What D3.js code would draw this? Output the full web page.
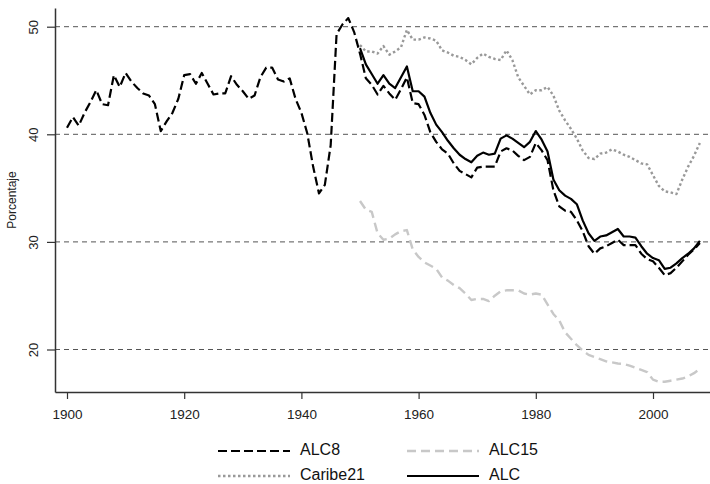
<!DOCTYPE html>
<html>
<meta charset="utf-8" />
<head>
<title>Porcentaje 1900-2008</title>
<script src="https://cdn.jsdelivr.net/npm/d3@7"></script>
<style>
	body { margin: 0; background: #fff; }
	svg { display: block; font-family: "Liberation Sans", Arial, sans-serif; }
</style>
<script>
// valores
const alc8Start = 1900;
const alc8 = [
	40.6, 41.6, 40.8, 42.0, 43.0, 44.1, 42.8, 42.7, 45.5, 44.4,
	45.7, 44.9, 44.3, 43.8, 43.6, 42.8, 40.3, 41.2, 42.0, 43.3,
	45.5, 45.6, 44.7, 45.7, 44.7, 43.7, 43.8, 43.8, 45.4, 44.6,
	44.0, 43.3, 43.6, 45.3, 46.2, 46.2, 45.1, 44.9, 45.2, 43.3,
	42.0, 40.1, 37.0, 34.5, 35.3, 39.0, 49.3, 50.2, 50.8, 49.5,
	47.5, 45.2, 44.6, 43.7, 44.5, 43.8, 43.2, 44.2, 45.3, 42.9,
	42.8, 41.8, 40.2, 39.3, 38.6, 38.2, 37.3, 36.6, 36.3, 36.0,
	36.9, 37.0, 37.0, 37.0, 38.4, 38.7, 38.5, 38.0, 37.6, 37.9,
	39.2, 38.5, 37.6, 34.8, 33.3, 32.9, 32.8, 32.0, 31.0, 29.6,
	28.9, 29.4, 29.6, 29.9, 30.2, 29.7, 29.7, 29.7, 28.9, 28.4,
	28.2, 27.6, 26.9, 27.1, 27.6, 28.2, 28.8, 29.3, 29.9
];

const restStart = 1950;
const alc = [
	48.0, 46.5, 45.6, 44.7, 45.5, 44.7, 44.3, 45.3, 46.3, 44.0,
	44.0, 43.5, 42.0, 40.9, 40.2, 39.4, 38.7, 38.1, 37.7, 37.4,
	38.0, 38.3, 38.1, 38.2, 39.6, 39.9, 39.6, 39.2, 38.8, 39.3,
	40.3, 39.5, 38.4, 35.8, 34.8, 34.3, 34.0, 33.5, 32.0, 30.8,
	30.1, 30.5, 30.6, 30.9, 31.2, 30.5, 30.5, 30.4, 29.6, 28.9,
	28.5, 28.3, 27.5, 27.6, 28.0, 28.5, 28.9, 29.4, 30.1
];
const caribe21 = [
	48.3, 47.7, 47.7, 47.5, 48.2, 47.4, 47.7, 48.1, 49.7, 48.8,
	48.8, 49.0, 48.9, 48.7, 47.8, 47.6, 47.3, 47.2, 46.9, 46.5,
	47.1, 47.5, 47.2, 47.0, 46.9, 47.8, 46.9, 45.3, 44.5, 43.7,
	44.1, 44.1, 44.4, 43.6, 42.2, 41.3, 40.5, 39.6, 38.5, 37.8,
	37.7, 38.2, 38.3, 38.6, 38.4, 38.1, 37.9, 37.6, 37.3, 37.2,
	36.2, 35.2, 34.7, 34.6, 34.45, 35.8, 37.0, 38.0, 39.2
];
const alc15 = [
	33.8, 33.0, 32.8, 30.8, 30.2, 30.3, 30.7, 31.0, 31.1, 29.3,
	28.6, 28.1, 27.8, 27.5, 26.7, 26.4, 26.0, 25.7, 25.2, 24.6,
	24.7, 24.7, 24.5, 25.0, 25.4, 25.5, 25.5, 25.5, 25.2, 25.1,
	25.2, 25.1, 24.2, 23.3, 22.7, 21.6, 21.0, 20.4, 19.9, 19.5,
	19.3, 19.1, 18.9, 18.8, 18.7, 18.65, 18.5, 18.3, 18.1, 17.9,
	17.2, 17.0, 17.0, 17.1, 17.2, 17.3, 17.5, 17.8, 18.2
];

const xTicks = [1900, 1920, 1940, 1960, 1980, 2000];
const yTicks = [20, 30, 40, 50];
const yTitle = 'Porcentaje';
const legendNames = ['ALC8', 'ALC15', 'Caribe21', 'ALC'];

window.onload = function() {
	let svg = d3.select('svg');

	// escalas: 1900->67px, 2000->653px ; 20->349.5px, 50->26.7px
	let xScale = d3.scaleLinear().domain([1900, 2000]).range([67, 653]);
	let yScale = d3.scaleLinear().domain([20, 50]).range([349.5, 26.7]);

	// copias que cubren todo el marco para dibujar los ejes
	let xFrame = xScale.copy().domain([xScale.invert(55), xScale.invert(710)]).range([55, 710]);
	let yFrame = yScale.copy().domain([yScale.invert(392), yScale.invert(8)]).range([392, 8]);

	// lineas de referencia horizontales
	svg.append('g').selectAll('line')
	.data(yTicks).enter()
	.append('line')
	.attr('x1', 55).attr('x2', 710)
	.attr('y1', (d) => yScale(d)).attr('y2', (d) => yScale(d))
	.attr('stroke', '#555')
	.attr('stroke-width', 1)
	.attr('stroke-dasharray', '5,4');

	// ejes
	let xAxis = d3.axisBottom(xFrame).tickValues(xTicks).tickSizeInner(7).tickSizeOuter(0).tickPadding(10).tickFormat(d3.format('d'));
	let yAxis = d3.axisLeft(yFrame).tickValues(yTicks).tickSizeInner(8).tickSizeOuter(0).tickPadding(0);

	let xG = svg.append('g').attr('transform', 'translate(0,392)').call(xAxis);
	let yG = svg.append('g').attr('transform', 'translate(55,0)').call(yAxis);

	[xG, yG].forEach((g) => {
		g.select('.domain').attr('stroke', '#333').attr('stroke-width', 1.5);
		g.selectAll('.tick line').attr('stroke', '#333').attr('stroke-width', 1.2);
	});
	xG.selectAll('.tick text').attr('font-size', 13.5).attr('fill', '#222').attr('font-family', 'Liberation Sans');

	// etiquetas del eje y giradas
	yG.selectAll('.tick text')
	.attr('x', null).attr('dy', null)
	.attr('transform', 'translate(-20,0) rotate(-90)')
	.attr('text-anchor', 'middle')
	.attr('dominant-baseline', 'middle')
	.attr('font-size', 13)
	.attr('fill', '#222')
	.attr('font-family', 'Liberation Sans');

	svg.append('text')
	.attr('transform', 'translate(13,200) rotate(-90)')
	.attr('text-anchor', 'middle')
	.attr('dominant-baseline', 'middle')
	.attr('font-size', 12)
	.attr('fill', '#222')
	.text(yTitle);

	// series
	let toPoints = (vals, start) => vals.map((v, i) => ({ year: start + i, value: v }));
	let line = d3.line()
	.x((d) => xScale(d.year))
	.y((d) => yScale(d.value));

	let series = [
		{ name: 'ALC15', data: toPoints(alc15, restStart), color: '#c8c8c8', width: 2.4, dash: '9,5' },
		{ name: 'Caribe21', data: toPoints(caribe21, restStart), color: '#999', width: 2.4, dash: '2.5,2.5' },
		{ name: 'ALC8', data: toPoints(alc8, alc8Start), color: '#000', width: 2.2, dash: '9,4' },
		{ name: 'ALC', data: toPoints(alc, restStart), color: '#000', width: 2.2, dash: null }
	];

	svg.append('g').selectAll('path')
	.data(series).enter()
	.append('path')
	.attr('d', (d) => line(d.data))
	.attr('fill', 'none')
	.attr('stroke', (d) => d.color)
	.attr('stroke-width', (d) => d.width)
	.attr('stroke-dasharray', (d) => d.dash)
	.attr('stroke-linejoin', 'round');

	// leyenda 2x2
	let legendPos = {
		'ALC8': [218, 451], 'ALC15': [407, 451],
		'Caribe21': [218, 476], 'ALC': [407, 476]
	};
	let styleOf = {};
	series.forEach((s) => { styleOf[s.name] = s; });

	let leg = svg.append('g').selectAll('g')
	.data(legendNames).enter()
	.append('g')
	.attr('transform', (d) => 'translate(' + legendPos[d][0] + ',' + legendPos[d][1] + ')');

	leg.append('line')
	.attr('x1', 0).attr('x2', 72)
	.attr('stroke', (d) => styleOf[d].color)
	.attr('stroke-width', (d) => styleOf[d].width)
	.attr('stroke-dasharray', (d) => styleOf[d].dash);

	leg.append('text')
	.attr('x', 82)
	.attr('dominant-baseline', 'middle')
	.attr('font-size', 16)
	.attr('fill', '#111')
	.text((d) => d);
}
</script>
</head>
<body>
<svg width="710" height="484"></svg>
</body>
</html>
